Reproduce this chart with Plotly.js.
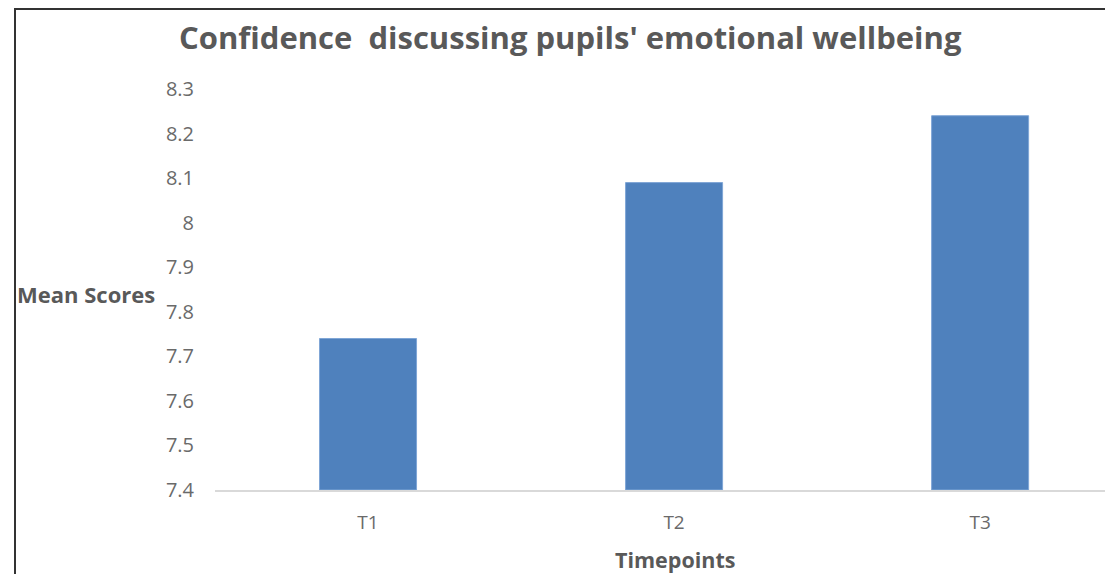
<!DOCTYPE html>
<html>
<head>
<meta charset="utf-8">
<script src="https://cdn.plot.ly/plotly-3.0.1.min.js"></script>
<style>
  html, body { margin: 0; padding: 0; background: #fff; width: 1105px; height: 574px; overflow: hidden; }
  #frame { position: absolute; left: 14px; top: 8px; width: 1091px; height: 566px; border-left: 2px solid #333; border-top: 2px solid #333; }
  #chart { position: absolute; left: 0; top: 0; width: 1089px; height: 564px; }
</style>
</head>
<body>
<div id="frame"><div id="chart"></div></div>
<script>
const categories = ["T1", "T2", "T3"];
const meanScores = [7.74, 8.09, 8.24];
const axisBase = 7.4;
const yTicks = [7.4, 7.5, 7.6, 7.7, 7.8, 7.9, 8, 8.1, 8.2, 8.3];
const yTickLabels = ["7.4", "7.5", "7.6", "7.7", "7.8", "7.9", "8", "8.1", "8.2", "8.3"];
const chartTitle = "Confidence  discussing pupils' emotional wellbeing";
const xTitle = "Timepoints";
const yTitle = "Mean Scores";

const font = "'Open Sans', Lato, sans-serif";
const trace = {
  type: "bar",
  x: categories,
  y: meanScores.map(v => v - axisBase),
  base: axisBase,
  width: 0.317,
  marker: { color: "#4F81BD", line: { color: "#7FA6D6", width: 1 } },
  hoverinfo: "x+y"
};

const layout = {
  width: 1089, height: 564,
  margin: { l: 199, r: 0, t: 79, b: 84 },
  paper_bgcolor: "#fff", plot_bgcolor: "#fff",
  showlegend: false,
  font: { family: font, color: "#595959" },
  xaxis: {
    type: "category",
    range: [-0.5, 2.408],
    showline: true, linecolor: "#D9D9D9", linewidth: 1.5,
    showgrid: false, zeroline: false, ticks: "",
    ticklabelstandoff: 15,
    tickfont: { size: 19, color: "#6a6a6a", family: font }
  },
  yaxis: {
    range: [7.4, 8.3],
    tickvals: yTicks, ticktext: yTickLabels,
    showline: false, showgrid: false, zeroline: false, ticks: "",
    ticklabelstandoff: 20,
    tickfont: { size: 20, color: "#6a6a6a", family: font }
  },
  annotations: [
    { text: "<b>" + chartTitle + "</b>", xref: "paper", yref: "paper", x: 0.399, y: 1, yshift: 52,
      xanchor: "center", yanchor: "middle", showarrow: false,
      font: { size: 31, color: "#595959", family: font } },
    { text: "<b>" + yTitle + "</b>", xref: "paper", yref: "paper", x: 0, xshift: -200, y: 0.49,
      xanchor: "left", yanchor: "middle", showarrow: false,
      font: { size: 22, color: "#595959", family: font } },
    { text: "<b>" + xTitle + "</b>", xref: "paper", yref: "paper", x: 0.517, y: 0, yshift: -69,
      xanchor: "center", yanchor: "middle", showarrow: false,
      font: { size: 21.5, color: "#595959", family: font } }
  ]
};

Plotly.newPlot("chart", [trace], layout, { displayModeBar: false, staticPlot: true });
</script>
</body>
</html>
